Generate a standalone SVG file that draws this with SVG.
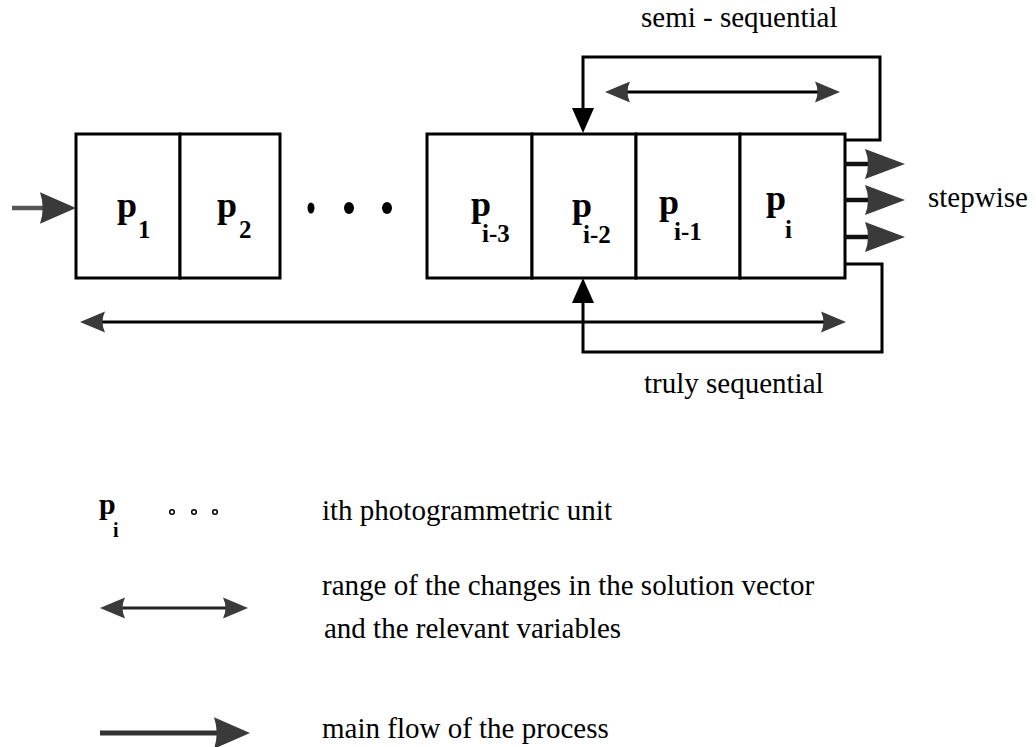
<svg xmlns="http://www.w3.org/2000/svg" width="1036" height="747" viewBox="0 0 1036 747">
<style>
  .box { fill: #fff; stroke: #000; stroke-width: 3; }
  .ln { stroke: #000; stroke-width: 3; fill: none; }
  .thick { stroke: #111; stroke-width: 4.5; fill: none; }
  .gray { fill: #3a3a3a; }
  .blk { fill: #000; }
  .lbl { font-family: "Liberation Serif", "Times New Roman", serif; font-size: 29px; fill: #000; }
  .p { font-family: "Liberation Serif", "Times New Roman", serif; font-weight: bold; font-size: 36px; fill: #000; }
  .sub { font-family: "Liberation Serif", "Times New Roman", serif; font-weight: bold; font-size: 25px; fill: #000; }
</style>
<defs>
  <path id="hs" d="M0,0 L-25,-10.5 Q-20,0 -25,10.5 Z"/>
  <path id="hm" d="M0,0 L-40,-15 Q-34,0 -40,15 Z"/>
  <path id="hb" d="M0,0 L-25,-11 L-25,11 Z"/>
</defs>
<rect width="1036" height="747" fill="#fff"/>

<g id="p1">
  <rect class="box" x="76" y="134" width="104" height="144"/>
  <text class="p" x="117" y="217">p</text>
  <text class="sub" x="138" y="238">1</text>
</g>
<g id="p2">
  <rect class="box" x="180" y="134" width="100" height="144"/>
  <text class="p" x="217" y="217">p</text>
  <text class="sub" x="239" y="238">2</text>
</g>
<g id="ellipsis">
  <ellipse cx="311" cy="208" rx="3.5" ry="5.5" fill="#000"/>
  <ellipse cx="349" cy="208" rx="5" ry="6" fill="#000"/>
  <ellipse cx="387" cy="208" rx="5" ry="6" fill="#000"/>
</g>
<g id="pi3">
  <rect class="box" x="427" y="134" width="105" height="144"/>
  <text class="p" x="471" y="216">p</text>
  <text class="sub" x="482" y="242">i-3</text>
</g>
<g id="pi2">
  <rect class="box" x="532" y="134" width="104" height="144"/>
  <text class="p" x="572" y="217">p</text>
  <text class="sub" x="583" y="243">i-2</text>
</g>
<g id="pi1">
  <rect class="box" x="636" y="134" width="104" height="144"/>
  <text class="p" x="659" y="214">p</text>
  <text class="sub" x="674" y="240">i-1</text>
</g>
<g id="pi">
  <rect class="box" x="740" y="134" width="105" height="144"/>
  <text class="p" x="766" y="210">p</text>
  <text class="sub" x="785" y="238">i</text>
</g>

<g id="connectors">
  <line x1="12" y1="208" x2="44" y2="208" stroke="#555" stroke-width="4.5"/>
  <use href="#hm" class="gray" transform="translate(76,208) scale(0.9,1.05)"/>
  <polyline class="ln" points="845,140 880,140 880,57 583,57 583,110"/>
  <use href="#hb" class="blk" transform="translate(583,133) rotate(90)"/>
  <line class="ln" x1="625" y1="92" x2="820" y2="92"/>
  <use href="#hs" class="gray" transform="translate(840,92)"/>
  <use href="#hs" class="gray" transform="translate(605,92) rotate(180)"/>
  <line class="thick" x1="845" y1="164" x2="868" y2="164"/>
  <line class="thick" x1="845" y1="200" x2="868" y2="200"/>
  <line class="thick" x1="845" y1="237" x2="868" y2="237"/>
  <use href="#hm" class="gray" transform="translate(905,164)"/>
  <use href="#hm" class="gray" transform="translate(905,200)"/>
  <use href="#hm" class="gray" transform="translate(905,237)"/>
  <polyline class="ln" points="845,264 882,264 882,352 583,352 583,300"/>
  <use href="#hb" class="blk" transform="translate(583,278) rotate(-90)"/>
  <line class="ln" x1="100" y1="322" x2="826" y2="322"/>
  <use href="#hs" class="gray" transform="translate(846,322)"/>
  <use href="#hs" class="gray" transform="translate(80,322) rotate(180)"/>
</g>

<g id="labels">
  <text class="lbl" x="641" y="27">semi - sequential</text>
  <text class="lbl" x="928" y="207">stepwise</text>
  <text class="lbl" x="644" y="393">truly sequential</text>
</g>

<g id="legend">
  <text class="p" x="99" y="514" style="font-size:30px">p</text>
  <text class="sub" x="113" y="537" style="font-size:20px">i</text>
  <circle cx="172" cy="512" r="2.3" fill="none" stroke="#000" stroke-width="1.5"/>
  <circle cx="194" cy="512" r="2.3" fill="none" stroke="#000" stroke-width="1.5"/>
  <circle cx="215" cy="512" r="2.3" fill="none" stroke="#000" stroke-width="1.5"/>
  <text class="lbl" x="322" y="520">ith photogrammetric unit</text>

  <line x1="118" y1="608" x2="230" y2="608" stroke="#222" stroke-width="3"/>
  <use href="#hs" class="gray" transform="translate(248,608)"/>
  <use href="#hs" class="gray" transform="translate(100,608) rotate(180)"/>
  <text class="lbl" x="322" y="595">range of the changes in the solution vector</text>
  <text class="lbl" x="324" y="638">and the relevant variables</text>

  <line x1="100" y1="733" x2="218" y2="733" stroke="#333" stroke-width="5"/>
  <use href="#hm" class="gray" transform="translate(250,733) scale(0.9,1.05)"/>
  <text class="lbl" x="322" y="738">main flow of the process</text>
</g>
</svg>
